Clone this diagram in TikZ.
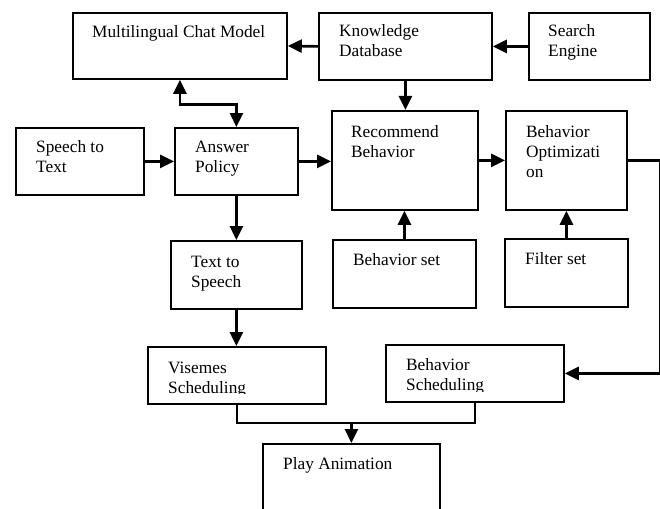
\documentclass[tikz,border=0pt]{standalone}
\usepackage{fontspec}
\setmainfont{Liberation Serif}
\usetikzlibrary{arrows.meta}
\begin{document}
\begin{tikzpicture}[x=1pt,y=-1pt,
  box/.style={draw, line width=1.8pt, inner sep=0pt, anchor=north west},
  lbl/.style={anchor=base west, inner sep=0pt, align=left, font=\fontsize{17.3}{20}\selectfont},
  conn/.style={line width=2.7pt},
  tri/.tip={Triangle[width=13pt,length=14pt]}]
\useasboundingbox (0,0) rectangle (660,508);
\clip (0,0) rectangle (660,508);
\newcommand\drawbox[5]{\node[box, minimum width=#4pt, minimum height=#5pt] (#1) at (#2,#3) {};}
% boxes
\drawbox{mcm}{72}{12}{214}{66}
\drawbox{kd}{318}{12}{173}{67}
\drawbox{se}{528}{12}{121}{67}
\drawbox{stt}{15}{127}{128}{67}
\drawbox{ap}{174}{127}{123}{67}
\drawbox{rec}{331}{110}{146}{99}
\drawbox{bo}{505}{110}{121}{99}
\drawbox{tts}{170}{240}{131}{68}
\drawbox{bs}{332}{239}{143}{68}
\drawbox{fs}{504}{238}{123}{68}
\drawbox{vs}{147}{346}{178}{57}
\drawbox{bsch}{385}{344}{178}{57}
\drawbox{pa}{262}{443}{177}{97}
% labels (base anchor = baseline of the last line)
\node[lbl] (mcm-t) at (92,38) {Multilingual Chat Model};
\node[lbl] (kd-t) at (339,57) {Knowledge\\Database};
\node[lbl] (se-t) at (548,57) {Search\\Engine};
\node[lbl] (stt-t) at (36,172) {Speech to\\Text};
\node[lbl] (ap-t) at (195,172) {Answer\\Policy};
\node[lbl] (rec-t) at (351,157) {Recommend\\Behavior};
\node[lbl] (bo-t) at (526,177) {Behavior\\Optimizati\\on};
\node[lbl] (tts-t) at (191,287) {Text to\\Speech};
\node[lbl] (bs-t) at (353,265) {Behavior set};
\node[lbl] (fs-t) at (525,264) {Filter set};
\begin{scope}
\clip (147,346) rectangle (325,393);
\node[lbl] (vs-t) at (168,393) {Visemes\\Scheduling};
\end{scope}
\begin{scope}
\clip (385,344) rectangle (563,391);
\node[lbl] (bsch-t) at (406,390) {Behavior\\Scheduling};
\end{scope}
\node[lbl] (pa-t) at (283,469) {Play Animation};
% connectors
\draw[conn,-tri] (se.west) -- (kd.east);
\draw[conn,-tri] (kd.west) -- (mcm.east);
\draw[conn,-tri] (kd.south) -- (kd.south |- rec.north);
\draw[conn,tri-tri] (mcm.south) -- ++(0,25) -| (ap.north);
\draw[conn,-tri] (stt.east) -- (ap.west);
\draw[conn,-tri] (ap.east) -- (ap.east -| rec.west);
\draw[conn,-tri] (rec.east) -- (bo.west);
\draw[conn,-tri] (ap.south) -- (ap.south |- tts.north);
\draw[conn,-tri] (tts.south) -- (tts.south |- vs.north);
\draw[conn,-tri] (bs.north) -- (bs.north |- rec.south);
\draw[conn,-tri] (fs.north) -- (fs.north |- bo.south);
\draw[conn,-tri] (bo.east) -- ++(33,0) |- (bsch.east);
\path (pa.north) ++(0,-20) coordinate (j);
\draw[conn] (vs.south) |- (j);
\draw[conn] (bsch.south) |- (j);
\draw[conn,-tri] (j) -- (pa.north);
\end{tikzpicture}
\end{document}
